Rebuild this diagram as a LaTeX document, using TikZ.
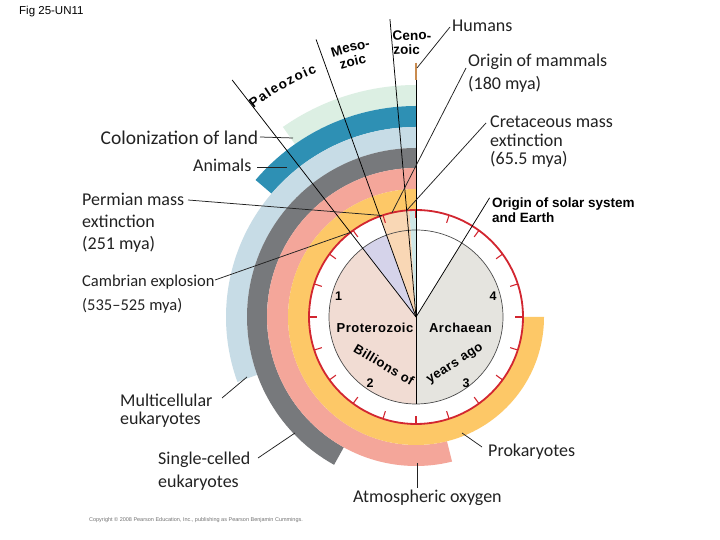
\documentclass[tikz,border=0pt]{standalone}
\usepackage{fontspec}
\setmainfont{Liberation Sans}
\newfontfamily\handfont{Carlito}
\newfontfamily\spacedfont[LetterSpace=4]{Liberation Sans}
\usetikzlibrary{calc,decorations.text}
\definecolor{cland}{HTML}{DCEFE3}
\definecolor{canim}{HTML}{2E90B4}
\definecolor{cmulti}{HTML}{C7DCE6}
\definecolor{csingle}{HTML}{77797C}
\definecolor{coxy}{HTML}{F4A69A}
\definecolor{cprok}{HTML}{FDC867}
\definecolor{cred}{HTML}{D22630}
\definecolor{cceno}{HTML}{CFE7E6}
\definecolor{cmeso}{HTML}{F9D7B5}
\definecolor{cpaleo}{HTML}{D5D3EA}
\definecolor{cprot}{HTML}{F1DCD3}
\definecolor{carch}{HTML}{E5E4DF}
\definecolor{ctan}{HTML}{C98B4F}
\definecolor{cink}{HTML}{222222}
\newcommand\annseg[5]{% colour, inner r, outer r, start angle, end angle
  \fill[#1] ($(C)+(#4:#3)$) arc[start angle=#4, end angle=#5, radius=#3]
    -- ($(C)+(#5:#2)$) arc[start angle=#5, end angle=#4, radius=#2] -- cycle;}
\newcommand\wedgeseg[4]{% colour, radius, start, end
  \fill[#1] (C) -- ($(C)+(#3:#2)$) arc[start angle=#3, end angle=#4, radius=#2] -- cycle;}
\newcommand\erafont{\bfseries\fontsize{13.5}{15}\selectfont}
\begin{document}
\begin{tikzpicture}[x=1pt,y=1pt,
  hand/.style={font=\handfont\fontsize{18}{22}\selectfont, text=cink, inner sep=0pt, align=left, anchor=base west},
  clk/.style={font=\bfseries\fontsize{12.5}{14}\selectfont, inner sep=0pt},
  clkword/.style={font=\spacedfont\bfseries\fontsize{13}{15}\selectfont, inner sep=0pt},
  radial/.style={draw=black, line width=0.75pt},
  ptr/.style={draw=cink, line width=0.75pt},
  ticks/.style={draw=cred, line width=1.1pt},
]
\useasboundingbox (0,0) rectangle (720,540);
\fill[white] (0,0) rectangle (720,540);
\coordinate (C) at (416,223);

% ---- outer rings (time spans of life events)
\annseg{cland}{211}{232}{90}{125}
\annseg{canim}{190}{211}{90}{139.5}
\annseg{cmulti}{169}{190}{90}{200}
\annseg{csingle}{149}{169}{90}{241}
\annseg{coxy}{128}{149}{90}{284}
\annseg{cprok}{107}{128}{90}{360}

% ---- clock face
\fill[white] (C) circle[radius=107];
\wedgeseg{cprot}{87}{127.8}{270}
\wedgeseg{carch}{87}{-90}{58.5}
\wedgeseg{cpaleo}{87}{109.8}{127.8}
\wedgeseg{cmeso}{107}{93.5}{109.8}
\wedgeseg{cceno}{107}{90}{93.5}
\draw[black!70, line width=0.7pt] (C) circle[radius=87];
\draw[cred, line width=1.8pt] (C) circle[radius=107];
\foreach \a in {0,18,...,342} \draw[ticks] ($(C)+(\a:107)$) -- ($(C)+(\a:99)$);

% ---- era boundary lines
\coordinate (cenoTop) at ($(C)+(95:299)$);
\coordinate (mesoTop) at ($(C)+(109.8:295)$);
\coordinate (paleoTop) at ($(C)+(127.8:300)$);
\coordinate (solarEnd) at ($(C)+(58.3:140)$);
\coordinate (humTop) at (416,477);
\coordinate (humBot) at (416,460);
\coordinate (diskBot) at ($(C)+(270:87)$);
\draw[radial] (C) -- (cenoTop);
\draw[radial] (C) -- (mesoTop);
\draw[radial] (C) -- (paleoTop);
\draw[radial] (C) -- (solarEnd);
\draw[radial] (humTop) -- (diskBot);
\draw[ctan, line width=2.6pt] (humTop) -- (humBot);

% ---- era names
\path[decorate, decoration={text along path, text={|\erafont|Paleozoic}, text align={fit to path}}]
  ($(C)+(128:264)$) arc[start angle=128, end angle=112, radius=264];
\path[decorate, decoration={text along path, text={|\erafont|Meso-}, text align=left}]
  ($(C)+(107.8:273)$) arc[start angle=107.8, end angle=92, radius=273];
\path[decorate, decoration={text along path, text={|\erafont|zoic}, text align=left}]
  ($(C)+(106.8:259)$) arc[start angle=106.8, end angle=92, radius=259];
\path[decorate, decoration={text along path, text={|\erafont|Ceno-}, text align=left}]
  ($(C)+(94.8:277)$) arc[start angle=94.8, end angle=78, radius=277];
\path[decorate, decoration={text along path, text={|\erafont|zoic}, text align=left}]
  ($(C)+(94.9:263)$) arc[start angle=94.9, end angle=78, radius=263];

% ---- clock texts
\node[clk] (n1) at (338.7,244) {1};
\node[clk] (n4) at (493,244) {4};
\node[clk] (n2) at (370,157) {2};
\node[clk] (n3) at (466,157) {3};
\node[clkword] (prot) at (375,212) {Proterozoic};
\node[clkword] (arch) at (460.5,212) {Archaean};
\node[clkword, rotate=-31] (bill) at (384,175.5) {Billions of};
\node[clkword, rotate=33] (yago) at (455.5,175.5) {years ago};

% ---- labels (multi-line nodes: base = last line)
\node[font=\fontsize{11.5}{13}\selectfont, anchor=base west, inner sep=0pt] (fig) at (19,525) {Fig 25-UN11};
\node[hand] (humans) at (452,508) {Humans};
\node[hand, font=\handfont\fontsize{18}{23.5}\selectfont] (mammals) at (468,450) {Origin of mammals\\(180 mya)};
\node[hand, font=\handfont\fontsize{18}{18.5}\selectfont] (cret) at (490,375) {Cretaceous mass\\extinction\\(65.5 mya)};
\node[font=\bfseries\fontsize{13.5}{15}\selectfont, align=left, anchor=base west, inner sep=0pt] (solar) at (492,317) {Origin of solar system\\and Earth};
\node[hand, font=\handfont\fontsize{19.5}{22}\selectfont] (land) at (100.5,395) {Colonization of land};
\node[hand] (animals) at (193,368.5) {Animals};
\node[hand, font=\handfont\fontsize{18}{22}\selectfont] (perm) at (82,290) {Permian mass\\extinction\\(251 mya)};
\node[hand, font=\handfont\fontsize{16.5}{24}\selectfont] (camb) at (82,229.5) {Cambrian explosion\\(535–525 mya)};
\node[hand, font=\handfont\fontsize{18}{18.5}\selectfont] (multi) at (120,115) {Multicellular\\eukaryotes};
\node[hand, font=\handfont\fontsize{18}{23}\selectfont] (single) at (158,52) {Single-celled\\eukaryotes};
\node[hand] (prok) at (488,83.5) {Prokaryotes};
\node[hand] (oxy) at (353,37) {Atmospheric oxygen};
\node[font=\fontsize{5.5}{6}\selectfont, text=black!55, inner sep=0pt] (copy) at (196,20) {Copyright © 2008 Pearson Education, Inc., publishing as Pearson Benjamin Cummings.};

% ---- pointer lines
\coordinate (humA) at (450,513);
\coordinate (humB) at (417,472);
\coordinate (mamA) at (466,472);
\coordinate (mamB) at ($(C)+(103:107)$);
\coordinate (creA) at (486,417);
\coordinate (creB) at ($(C)+(95:107)$);
\coordinate (perA) at (188,340);
\coordinate (perB) at ($(C)+(108.5:107)$);
\coordinate (camA) at (215,260);
\coordinate (camB) at ($(C)+(127.8:107)$);
\coordinate (lanA) at (260,403);
\coordinate (lanB) at (293,402);
\coordinate (aniA) at (257,373);
\coordinate (aniB) at (287,373);
\coordinate (mulA) at (222,142);
\coordinate (mulB) at (247,163);
\coordinate (sinA) at (258,82);
\coordinate (sinB) at (295,107);
\coordinate (proA) at (482,93);
\coordinate (proB) at (462,107);
\coordinate (oxyA) at (417,52);
\coordinate (oxyB) at (417,77);
\draw[ptr] (humA) -- (humB);
\draw[ptr] (mamA) -- (mamB);
\draw[ptr] (creA) -- (creB);
\draw[ptr] (perA) -- (perB);
\draw[ptr] (camA) -- (camB);
\draw[ptr] (lanA) -- (lanB);
\draw[ptr] (aniA) -- (aniB);
\draw[ptr] (mulA) -- (mulB);
\draw[ptr] (sinA) -- (sinB);
\draw[ptr] (proA) -- (proB);
\draw[ptr] (oxyA) -- (oxyB);
\end{tikzpicture}
\end{document}
